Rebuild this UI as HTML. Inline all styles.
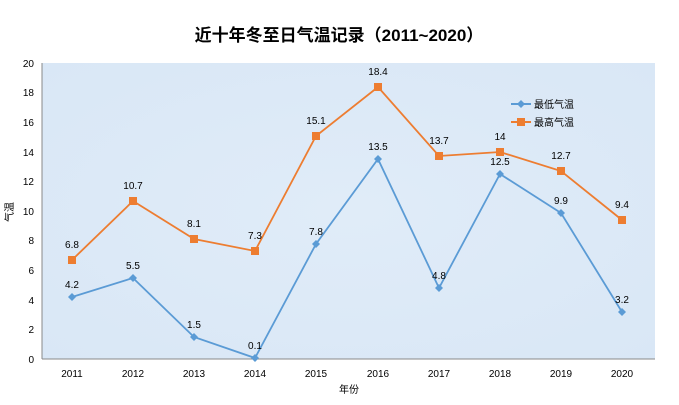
<!DOCTYPE html>
<html><head><meta charset="utf-8"><style>
body{margin:0;background:#fff;}
svg{display:block;font-family:"Liberation Sans","Noto Sans CJK SC",sans-serif;}
</style></head><body>
<svg width="679" height="405" viewBox="0 0 679 405">
<defs>
<radialGradient id="g" cx="50%" cy="50%" r="70%">
<stop offset="0" stop-color="#e0ecf8"/><stop offset="1" stop-color="#d9e7f6"/>
</radialGradient>
</defs>
<text x="339" y="41" text-anchor="middle" font-size="17" font-weight="bold" fill="#000">近十年冬至日气温记录（2011~2020）</text>
<rect x="42" y="63" width="613" height="296" fill="url(#g)"/>
<line x1="42" y1="63" x2="42" y2="359" stroke="#888" stroke-width="1"/>
<line x1="42" y1="359" x2="655" y2="359" stroke="#888" stroke-width="1"/>
<g font-size="10" fill="#000" text-anchor="end">
<text x="34" y="363">0</text><text x="34" y="333">2</text><text x="34" y="304">4</text><text x="34" y="274">6</text><text x="34" y="244">8</text><text x="34" y="215">10</text><text x="34" y="185">12</text><text x="34" y="156">14</text><text x="34" y="126">16</text><text x="34" y="96">18</text><text x="34" y="67">20</text>
</g>
<g font-size="10" fill="#000" text-anchor="middle">
<text x="72" y="377">2011</text><text x="133" y="377">2012</text><text x="194" y="377">2013</text><text x="255" y="377">2014</text><text x="316" y="377">2015</text><text x="378" y="377">2016</text><text x="439" y="377">2017</text><text x="500" y="377">2018</text><text x="561" y="377">2019</text><text x="622" y="377">2020</text>
<text x="349" y="393">年份</text>
</g>
<text transform="translate(13,212) rotate(-90)" font-size="10" text-anchor="middle">气温</text>
<polyline fill="none" stroke="#5b9bd5" stroke-width="1.8" points="72,297 133,278 194,337 255,358 316,244 378,159 439,288 500,174 561,213 622,312"/>
<g fill="#5b9bd5">
<path d="M72,293l4,4l-4,4l-4,-4z"/><path d="M133,274l4,4l-4,4l-4,-4z"/><path d="M194,333l4,4l-4,4l-4,-4z"/><path d="M255,354l4,4l-4,4l-4,-4z"/><path d="M316,240l4,4l-4,4l-4,-4z"/><path d="M378,155l4,4l-4,4l-4,-4z"/><path d="M439,284l4,4l-4,4l-4,-4z"/><path d="M500,170l4,4l-4,4l-4,-4z"/><path d="M561,209l4,4l-4,4l-4,-4z"/><path d="M622,308l4,4l-4,4l-4,-4z"/>
</g>
<polyline fill="none" stroke="#ed7d31" stroke-width="1.8" points="72,260 133,201 194,239 255,251 316,136 378,87 439,156 500,152 561,171 622,220"/>
<g fill="#ed7d31">
<rect x="68" y="256" width="8" height="8"/><rect x="129" y="197" width="8" height="8"/><rect x="190" y="235" width="8" height="8"/><rect x="251" y="247" width="8" height="8"/><rect x="312" y="132" width="8" height="8"/><rect x="374" y="83" width="8" height="8"/><rect x="435" y="152" width="8" height="8"/><rect x="496" y="148" width="8" height="8"/><rect x="557" y="167" width="8" height="8"/><rect x="618" y="216" width="8" height="8"/>
</g>
<g font-size="10" fill="#000" text-anchor="middle">
<text x="72" y="288">4.2</text><text x="133" y="269">5.5</text><text x="194" y="328">1.5</text><text x="255" y="349">0.1</text><text x="316" y="235">7.8</text><text x="378" y="150">13.5</text><text x="439" y="279">4.8</text><text x="500" y="165">12.5</text><text x="561" y="204">9.9</text><text x="622" y="303">3.2</text>
<text x="72" y="248">6.8</text><text x="133" y="189">10.7</text><text x="194" y="227">8.1</text><text x="255" y="239">7.3</text><text x="316" y="124">15.1</text><text x="378" y="75">18.4</text><text x="439" y="144">13.7</text><text x="500" y="140">14</text><text x="561" y="159">12.7</text><text x="622" y="208">9.4</text>
</g>
<line x1="511" y1="104" x2="531" y2="104" stroke="#5b9bd5" stroke-width="2"/>
<path d="M521,100l4,4l-4,4l-4,-4z" fill="#5b9bd5"/>
<text x="534" y="108" font-size="10">最低气温</text>
<line x1="511" y1="122" x2="531" y2="122" stroke="#ed7d31" stroke-width="2"/>
<rect x="517" y="118" width="8" height="8" fill="#ed7d31"/>
<text x="534" y="126" font-size="10">最高气温</text>
</svg>
</body></html>
